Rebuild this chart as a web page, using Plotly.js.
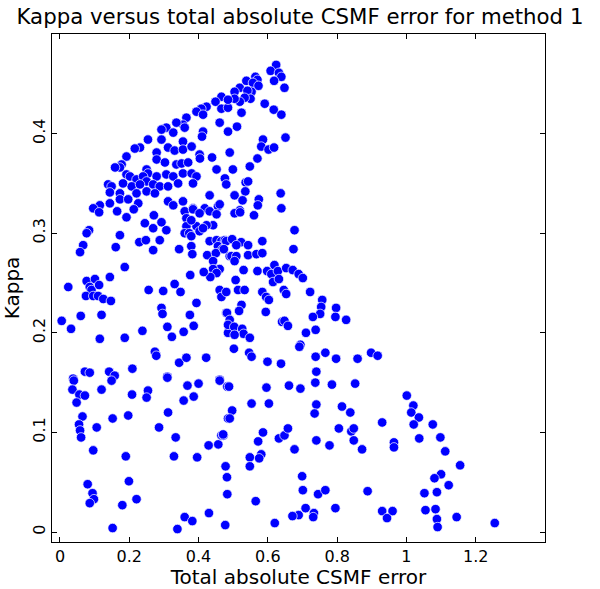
<!DOCTYPE html>
<html><head><meta charset="utf-8">
<script src="https://cdn.plot.ly/plotly-3.0.1.min.js"></script>
<style>html,body{margin:0;padding:0;background:#fff}#chart{width:600px;height:589px}</style>
</head><body><div id="chart"></div>
<script>
// Total absolute CSMF error (x) and Kappa (y)
const csmfError = [
0.466,0.449,0.466,0.485,0.423,0.408,0.394,0.413,0.365,0.355,0.360,0.336,0.307,0.293,0.413,0.410,0.327,0.293,0.254,0.231,0.216,0.312,0.331,0.355,0.355,0.380,0.403,0.404,0.439,0.461,
0.192,0.279,0.279,0.303,0.336,0.351,0.370,0.178,0.173,0.159,0.250,0.254,0.192,0.202,0.221,0.240,0.250,0.279,0.307,0.327,0.355,0.380,0.394,0.384,0.452,0.476,0.139,0.149,0.144,0.173,
0.207,0.231,0.269,0.288,0.312,0.341,0.182,0.173,0.197,0.221,0.250,0.274,0.432,0.115,0.096,0.144,0.226,0.312,0.327,0.355,0.384,0.418,0.456,
0.624,0.608,0.632,0.639,0.618,0.648,0.564,0.570,0.538,0.557,0.573,0.519,0.504,0.553,0.541,0.550,0.533,0.519,0.504,0.485,0.524,0.591,0.617,0.639,0.485,0.511,0.586,0.581,0.602,0.618,
0.651,0.490,0.570,0.548,0.499,0.480,0.536,0.543,0.535,0.504,0.527,0.574,0.571,0.637,0.639,0.461,0.519,
0.113,0.165,0.192,0.213,0.245,0.269,0.271,0.293,0.307,0.229,0.248,0.288,0.269,0.173,0.161,0.084,0.077,0.067,0.058,0.187,0.144,0.077,0.101,0.086,0.091,0.113,0.075,0.096,0.110,0.125,
0.147,0.024,0.005,0.032,0.060,0.120,0.115,0.187,0.238,0.256,0.298,0.331,0.348,0.293,0.296,0.394,0.375,0.386,0.357,0.310,0.323,0.274,0.278,0.344,0.365,0.422,0.209,0.072,0.086,0.142,
0.158,0.038,0.310,0.461,0.360,0.365,0.384,0.403,0.432,0.452,0.442,0.423,0.394,0.365,0.360,0.373,0.379,0.403,0.413,0.379,0.344,0.379,0.382,0.425,0.432,0.452,0.466,0.476,0.456,0.469,
0.450,0.442,0.461,0.442,0.452,0.434,0.415,0.376,0.461,0.466,0.480,0.485,0.490,
0.504,0.520,0.560,0.677,0.674,0.584,0.480,0.497,0.523,0.509,0.543,0.473,0.495,0.509,0.504,0.543,0.567,0.584,0.530,0.507,0.570,0.598,0.619,0.610,0.629,0.615,0.632,0.653,0.672,0.689,
0.701,0.480,0.514,0.533,0.584,0.595,0.603,0.646,0.653,0.722,0.757,0.754,0.751,0.730,0.797,0.795,0.826,0.524,0.517,0.482,0.594,0.490,0.485,0.503,0.526,0.530,0.504,0.548,0.641,0.648,
0.658,0.710,0.738,0.694,0.691,0.502,0.546,0.553,0.599,0.638,0.738,0.766,0.797,0.859,0.898,0.917,0.740,
0.149,0.040,0.036,0.056,0.072,0.048,0.120,0.208,0.254,0.250,0.310,0.368,0.400,0.386,0.357,0.461,0.483,0.065,0.055,0.058,0.061,0.106,0.152,0.197,0.096,0.190,0.312,0.286,0.334,0.329,
0.396,0.429,0.457,0.466,0.472,0.485,0.080,0.094,0.098,0.086,0.199,0.221,0.180,0.152,0.339,0.360,0.382,0.430,0.477,0.478,0.482,0.483,
0.488,0.596,0.661,0.694,0.737,0.785,0.852,0.553,0.603,0.740,0.735,0.814,0.838,0.497,0.490,0.471,0.586,0.572,0.632,0.648,0.658,0.677,0.740,0.778,0.805,0.841,0.848,0.848,0.872,0.930,
0.964,0.964,0.581,0.575,0.548,0.548,0.699,0.701,0.745,0.766,0.888,0.565,0.709,0.733,0.731,0.689,0.671,0.795,0.930,0.960,0.944,0.620,
1.001,1.020,1.014,1.036,1.021,1.076,1.037,1.098,1.112,1.155,1.100,1.081,1.122,1.052,1.088,1.055,1.084,1.088,1.090,1.145,1.255
];
const kappa = [
0.437,0.432,0.425,0.426,0.427,0.425,0.422,0.419,0.416,0.409,0.406,0.411,0.406,0.404,0.402,0.397,0.401,0.394,0.394,0.386,0.385,0.386,0.383,0.392,0.384,0.387,0.379,0.375,0.376,0.411,
0.377,0.381,0.374,0.371,0.369,0.370,0.371,0.369,0.366,0.366,0.364,0.360,0.359,0.357,0.354,0.357,0.352,0.357,0.359,0.357,0.360,0.360,0.357,0.350,0.364,0.355,0.349,0.347,0.341,0.340,
0.347,0.349,0.349,0.347,0.347,0.350,0.350,0.334,0.334,0.340,0.342,0.340,0.338,0.328,0.325,0.330,0.330,0.332,0.328,0.332,0.325,0.325,0.327,
0.469,0.463,0.461,0.457,0.453,0.446,0.457,0.454,0.453,0.451,0.448,0.446,0.442,0.442,0.443,0.435,0.436,0.432,0.435,0.434,0.421,0.430,0.424,0.419,0.402,0.407,0.394,0.387,0.384,0.386,
0.396,0.381,0.375,0.367,0.364,0.349,0.351,0.352,0.342,0.338,0.333,0.334,0.328,0.340,0.325,0.329,0.323,
0.321,0.322,0.316,0.324,0.310,0.305,0.318,0.311,0.303,0.291,0.293,0.293,0.283,0.298,0.286,0.303,0.300,0.288,0.281,0.266,0.256,0.252,0.254,0.246,0.243,0.248,0.237,0.237,0.237,0.234,
0.232,0.246,0.212,0.204,0.217,0.218,0.194,0.195,0.202,0.243,0.242,0.249,0.241,0.225,0.219,0.230,0.218,0.207,0.201,0.206,0.196,0.181,0.177,0.170,0.175,0.175,0.164,0.161,0.160,0.161,
0.157,0.154,0.156,0.153,0.322,0.315,0.324,0.320,0.322,0.319,0.308,0.308,0.307,0.307,0.300,0.300,0.297,0.302,0.305,0.313,0.284,0.287,0.279,0.278,0.292,0.293,0.292,0.293,0.287,0.284,
0.280,0.272,0.264,0.264,0.260,0.256,0.261,0.258,0.243,0.236,0.220,0.200,0.277,
0.320,0.321,0.318,0.303,0.284,0.292,0.292,0.294,0.291,0.288,0.288,0.284,0.277,0.277,0.272,0.278,0.279,0.280,0.263,0.253,0.262,0.262,0.268,0.259,0.262,0.251,0.254,0.265,0.263,0.259,
0.255,0.241,0.243,0.243,0.241,0.236,0.233,0.243,0.239,0.241,0.233,0.226,0.219,0.216,0.225,0.216,0.213,0.228,0.222,0.220,0.221,0.213,0.208,0.206,0.204,0.199,0.198,0.195,0.211,0.212,
0.207,0.200,0.203,0.188,0.186,0.184,0.180,0.176,0.171,0.169,0.176,0.180,0.174,0.174,0.180,0.177,0.161,
0.152,0.152,0.143,0.138,0.137,0.130,0.143,0.138,0.142,0.135,0.155,0.147,0.149,0.136,0.132,0.152,0.146,0.116,0.108,0.102,0.095,0.105,0.114,0.117,0.082,0.076,0.120,0.105,0.095,0.076,
0.075,0.087,0.088,0.097,0.097,0.114,0.048,0.039,0.033,0.029,0.051,0.033,0.027,0.004,0.003,0.015,0.011,0.019,0.007,0.066,0.055,0.038,
0.146,0.145,0.147,0.144,0.150,0.148,0.149,0.129,0.129,0.128,0.119,0.126,0.120,0.122,0.114,0.098,0.100,0.091,0.094,0.097,0.104,0.083,0.092,0.087,0.104,0.101,0.104,0.092,0.083,0.110,
0.090,0.085,0.078,0.074,0.075,0.066,0.056,0.042,0.038,0.042,0.041,0.031,0.024,0.019,0.015,0.017,0.016,0.024,0.021,0.021,0.014,0.009,
0.137,0.127,0.120,0.115,0.108,0.108,0.094,0.095,0.081,0.067,0.058,0.054,0.047,0.039,0.040,0.022,0.023,0.013,0.005,0.015,0.009
];
const xTickVals = [0, 0.2, 0.4, 0.6, 0.8, 1, 1.2];
const xTickText = ["0", "0.2", "0.4", "0.6", "0.8", "1", "1.2"];
const yTickVals = [0, 0.1, 0.2, 0.3, 0.4];
const yTickText = ["0", "0.1", "0.2", "0.3", "0.4"];

const font = "DejaVu Sans, sans-serif";
const trace = {
  x: csmfError, y: kappa, type: 'scatter', mode: 'markers',
  marker: {color: '#0000ff', size: 9.5, line: {color: '#ffffff', width: 0.7}},
  hoverinfo: 'x+y'
};
const axisCommon = {
  showline: true, linecolor: '#000', linewidth: 1, mirror: 'ticks',
  ticks: 'inside', ticklen: 5, tickcolor: '#000', tickwidth: 1,
  showgrid: false, zeroline: false, tickfont: {family: font, size: 16, color: '#000'}
};
const layout = {
  width: 600, height: 589,
  margin: {l: 52, r: 55, t: 34, b: 47},
  paper_bgcolor: '#fff', plot_bgcolor: '#fff',
  showlegend: false,
  title: {text: 'Kappa versus total absolute CSMF error for method 1', font: {family: font, size: 21.3, color: '#000'}, x: 0.5, xanchor: 'center', y: 0.984, yanchor: 'top'},
  xaxis: Object.assign({}, axisCommon, {
    range: [-0.023, 1.4], tickvals: xTickVals, ticktext: xTickText, ticklabelstandoff: 0,
    title: {text: 'Total absolute CSMF error', font: {family: font, size: 20, color: '#000'}, standoff: 5}
  }),
  yaxis: Object.assign({}, axisCommon, {
    range: [-0.01, 0.5], tickvals: yTickVals, ticktext: yTickText, tickangle: -90,
    title: {text: 'Kappa', font: {family: font, size: 20, color: '#000'}, standoff: 6}
  })
};
Plotly.newPlot('chart', [trace], layout, {displayModeBar: false, staticPlot: true});
</script>
</body></html>
